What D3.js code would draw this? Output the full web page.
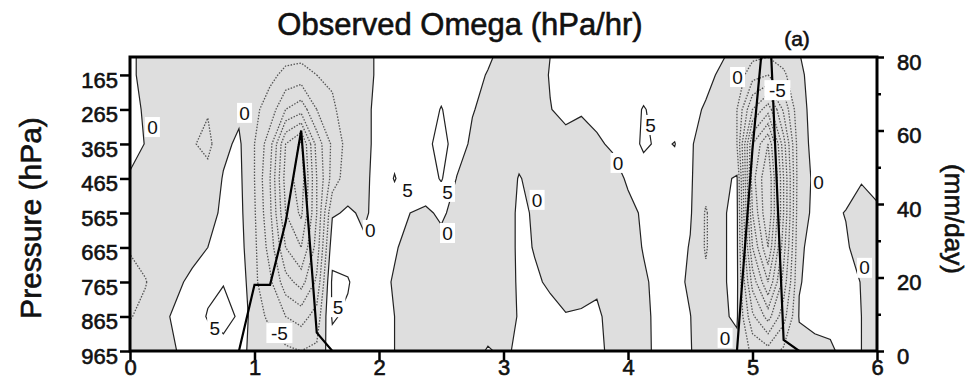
<!DOCTYPE html>
<html>
<head>
<meta charset="utf-8">
<script src="https://cdn.jsdelivr.net/npm/d3@7"></script>
<style>
  body { margin: 0; background: #fff; }
  svg text { font-family: "Liberation Sans", Arial, Helvetica, sans-serif; fill: #111; }
  .heavy { stroke: #111; stroke-width: 0.6px; }
</style>
</head>
<body>
<svg id="chart" width="973" height="379"></svg>
<script>
// time axis (days) of the analysis grid, 3-hourly
const days = [0, 0.125, 0.25, 0.375, 0.5, 0.625, 0.75, 0.875, 1, 1.125, 1.25, 1.375, 1.5, 1.625, 1.75, 1.875,
  2, 2.125, 2.25, 2.375, 2.5, 2.625, 2.75, 2.875, 3, 3.125, 3.25, 3.375, 3.5, 3.625, 3.75, 3.875,
  4, 4.125, 4.25, 4.375, 4.5, 4.625, 4.75, 4.875, 5, 5.125, 5.25, 5.375, 5.5, 5.625, 5.75, 5.875, 6];

// pressure levels (hPa), surface first
const levels = [965, 865, 765, 665, 565, 465, 365, 265, 165, 113];

// omega (hPa/hr), one column per time step, values follow `levels`
const omega = [
  [-3, -5.2, -7, -4.5, -2, -0.3, 1, 1.5, 1, 1],
  [-2.5, -4, -5.2, -3.5, -2, -0.5, -0.1, -0.6, -1.5, -1.5],
  [-1.5, -1, -2.5, -3, -2.5, -2, -2, -2, -2.5, -2.5],
  [0, 0.8, -0.8, -2, -3, -4, -4, -3, -2.5, -2],
  [2, 3, 1, -1.5, -3, -4, -4.5, -3.5, -3, -2.5],
  [3, 5.3, 4, 0, -1.5, -3, -6.5, -4.5, -3, -2.5],
  [3.5, 6.5, 4.8, 2.5, 0.8, 0.3, -1, -3, -3, -2.5],
  [2, 4.5, 3.5, 2, 1.5, 1.2, 0.8, -1, -3, -3],
  [-2, -3, -4, -4, -4.5, -5, -5, -4, -3, -3],
  [-3, -6, -9, -12, -14, -15, -13, -7, -4, -3],
  [-4, -10, -18, -25, -30, -32, -30, -15, -6, -4],
  [-5, -12, -22, -30, -36, -38, -36, -18, -7, -4],
  [-4, -8, -14, -18, -20, -20, -18, -10, -5, -3],
  [3, 5.6, 6, 3, -0.5, -8, -9, -6, -4, -3],
  [2, 4, 5.5, 2, 0.5, -2, -3, -2, -2, -2],
  [1, 2, 1.5, 0.5, -0.5, -1, -1, -1, -1, -1],
  [1, 1, 1, 1, 1, 1.5, 1, 1, 0.5, 0.5],
  [0, 0, -0.3, 0.3, 2, 5.3, 3, 2, 1.5, 1],
  [-2, -2.5, -2, -1, 0, 2, 2.5, 2, 2, 1.5],
  [-3, -3, -3, -2, -0.5, 2, 3.5, 3, 2.5, 2],
  [-3, -3.5, -3, -1, 0.5, 5.5, 7, 5.2, 3, 2],
  [-3, -3.5, -3, -2, -1, -0.2, 2.5, 3, 2, 1.5],
  [-2, -3, -3, -3, -3, -2, -1, 0.3, 1, 1],
  [0.5, -3, -3, -3, -3, -3, -3, -1.5, -0.2, 0.5],
  [-1, -3, -3, -3, -3, -3, -3, -2, -1, -1],
  [1, 0.5, 0.8, 1, 1, 0.3, -2, -2.5, -2, -1.5],
  [1, 1, 0.5, -0.2, -0.5, -1.5, -3, -2, -1.5, -1],
  [2, 1, -0.5, -2, -2.5, -3, -2.5, -0.1, 0.2, 0],
  [1.5, 0.2, -1.5, -2.5, -3, -3, -1, 0.8, 1.5, 1.5],
  [1, 0.3, -1, -2.5, -3, -3, -2, 0.5, 1.5, 1.5],
  [0.5, 0.5, -0.5, -2.5, -3, -3, -0.5, 1, 1.5, 1.5],
  [-0.5, -1, -2, -2.5, -2.5, -1.5, 0.5, 1.5, 2, 2],
  [-1.5, -2, -2, -1.5, -1, 0.5, 2, 3, 2, 1.5],
  [-0.5, -0.7, -0.5, 0.2, 0.5, 2, 6, 5.3, 2.5, 1.5],
  [0.5, 0.8, 1, 1, 1.5, 2.5, 4, 3.5, 2, 1.5],
  [0.5, 1, 1.5, 2, 2, 2.5, 5.2, 2, 1.5, 1],
  [0.2, 0.1, -0.8, -0.3, 0.5, 0.5, 0.5, 0.8, 1, 1],
  [-2, -3, -4, -5.5, -5.5, -3, -2, -0.3, 0.8, 1],
  [-1, -0.5, -0.5, -0.5, -0.5, -1, -3, -2, -0.5, 0.3],
  [-1, 0.5, 1, 1, 1, 0.5, -5, -5, -2, -1],
  [-6, -14, -22, -30, -35, -38, -35, -20, -8, -4],
  [-8, -22, -35, -45, -50, -50, -45, -28, -10, -5],
  [-4, -12, -18, -22, -25, -25, -22, -14, -6, -3],
  [-1.5, 0.3, -0.2, -0.5, -1, -1.5, -1.5, -1, -0.5, -0.1],
  [-1, 1, 1, 1, 0.5, 0.5, 1, 1, 1, 1],
  [-0.5, 1, 1, 1, 0.5, 1, 1, 1, 1, 1],
  [1, 1, 1, 0.3, -0.1, 1, 1.5, 1.5, 1, 1],
  [0, 0, -0.1, -1, -1.5, 0.3, 1.5, 1.5, 1, 1],
  [-1, -1, -1, -1.5, -0.5, 1, 1.5, 1.5, 1, 1]
];

// observed precipitation (mm/day) at the same time steps
const rain = [0, 0, 0, 0, 0, 0, 0, 0, 18, 18, 35, 60, 5, 0, 0, 0,
  0, 0, 0, 0, 0, 0, 0, 0, 0, 0, 0, 0, 0, 0, 0, 0,
  0, 0, 0, 0, 0, 0, 0, 0, 55, 100, 3, 0, 0, 0, 0, 0, 0];

const pressureTicks = [165, 265, 365, 465, 565, 665, 765, 865, 965];
const dayTicks = [0, 1, 2, 3, 4, 5, 6];
const rainTicks = [0, 20, 40, 60, 80];
const rainMinorTicks = [10, 30, 50, 70];

// contour labels: [day, pressure, text]
const contourLabels = [
  [0.18, 316, '0'], [0.92, 275, '0'], [0.68, 898, '5'], [1.2, 913, '-5'], [1.67, 838, '5'],
  [1.93, 614, '0'], [2.23, 498, '5'], [2.55, 504, '5'], [2.55, 623, '0'], [3.27, 527, '0'],
  [3.92, 420, '0'], [4.18, 310, '5'], [4.88, 171, '0'], [5.2, 209, '-5'], [5.53, 475, '0'],
  [4.78, 927, '0'], [5.9, 724, '0']
];

const svg = d3.select('#chart');
const margin = { left: 130, right: 96, top: 57, bottom: 28 };
const W = 973, H = 379;

const x = d3.scaleLinear().domain([0, 6]).range([margin.left, W - margin.right]);
const y = d3.scaleLinear().domain([113, 965]).range([margin.top, H - margin.bottom]);
const yRain = d3.scaleLinear().domain([0, 80]).range([H - margin.bottom, margin.top]);

// grid index -> data coordinates (d3.contours puts sample i at i + 0.5)
const n = days.length, m = levels.length;
const colToDay = d3.scaleLinear().domain(d3.range(n).map(i => i + 0.5)).range(days).clamp(true);
const rowToP = d3.scaleLinear().domain(d3.range(m).map(j => j + 0.5)).range(levels).clamp(true);
const proj = d3.geoTransform({
  point: function(px, py) { this.stream.point(x(colToDay(px)), y(rowToP(py))); }
});
const path = d3.geoPath(proj);

const values = new Array(n * m);
const negValues = new Array(n * m);
for (let j = 0; j < m; j++) {
  for (let i = 0; i < n; i++) {
    values[j * n + i] = omega[i][j];
    negValues[j * n + i] = -omega[i][j];
  }
}
const contours = d3.contours().size([n, m]).smooth(true);

svg.append('defs').append('clipPath').attr('id', 'plot-clip')
  .append('rect')
  .attr('x', x(0)).attr('y', y(113))
  .attr('width', x(6) - x(0)).attr('height', y(965) - y(113));

const plot = svg.append('g').attr('clip-path', 'url(#plot-clip)');

// shading where omega < 0 (rising motion)
const rising = contours.contour(negValues, 1e-6);
plot.append('path').attr('d', path(rising))
  .attr('fill', '#dedede').attr('stroke', 'none');

// negative contours, dotted
const negLevels = [5, 10, 15, 20, 25, 30, 35, 40, 45, 50];
negLevels.forEach(t => {
  plot.append('path').attr('d', path(contours.contour(negValues, t)))
    .attr('fill', 'none').attr('stroke', '#555').attr('stroke-width', 1.3)
    .attr('stroke-dasharray', '1.5,1.5');
});

// zero and positive contours, solid
[0, 5].forEach(t => {
  const c = t === 0 ? rising : contours.contour(values, t);
  plot.append('path').attr('d', path(c))
    .attr('fill', 'none').attr('stroke', '#222').attr('stroke-width', 1.2);
});

// precipitation
plot.append('path')
  .datum(rain)
  .attr('d', d3.line().x((d, i) => x(days[i])).y(d => yRain(d)))
  .attr('fill', 'none').attr('stroke', '#000').attr('stroke-width', 2.2);

// contour labels
const lab = svg.append('g');
contourLabels.forEach(([d, p, t]) => {
  const g = lab.append('g').attr('transform', `translate(${x(d)},${y(p)})`);
  const w = t.length * 11 + 4;
  g.append('rect').attr('x', -w / 2).attr('y', -10).attr('width', w).attr('height', 20).attr('fill', '#fff');
  g.append('text').attr('text-anchor', 'middle').attr('dy', '0.35em')
    .style('font-size', '19px').text(t);
});

// axes
const axisLeft = svg.append('g').attr('transform', `translate(${x(0)},0)`)
  .call(d3.axisLeft(y).tickValues(pressureTicks).tickSize(10).tickPadding(2));
const axisBottom = svg.append('g').attr('transform', `translate(0,${y(965)})`)
  .call(d3.axisBottom(x).tickValues(dayTicks).tickSize(9).tickPadding(1).tickFormat(d3.format('d')));
const axisRight = svg.append('g').attr('transform', `translate(${x(6)},0)`)
  .call(d3.axisRight(yRain).tickValues(rainTicks).tickSize(7).tickPadding(13));
svg.append('g').attr('transform', `translate(${x(6)},0)`)
  .call(d3.axisRight(yRain).tickValues(rainMinorTicks).tickSize(4).tickFormat(''))
  .select('.domain').remove();

[axisLeft, axisBottom, axisRight].forEach(a => {
  a.select('.domain').remove();
  a.selectAll('.tick text').style('font-size', '22px').attr('fill', '#222')
    .attr('class', 'heavy');
});
svg.selectAll('.tick line').attr('stroke', '#000').attr('stroke-width', 2.5);
axisLeft.selectAll('.tick text').attr('dy', '0.55em');
axisRight.selectAll('.tick text').attr('dy', '0.55em');
axisBottom.selectAll('.tick text').attr('dy', '0.62em');

// frame
svg.append('rect')
  .attr('x', x(0)).attr('y', y(113))
  .attr('width', x(6) - x(0)).attr('height', y(965) - y(113))
  .attr('fill', 'none').attr('stroke', '#000').attr('stroke-width', 3);

// titles
svg.append('text').attr('class', 'heavy').attr('x', 460).attr('y', 35).attr('text-anchor', 'middle')
  .style('font-size', '31px').text('Observed Omega (hPa/hr)');
svg.append('text').attr('class', 'heavy').attr('x', 797).attr('y', 46).attr('text-anchor', 'middle')
  .style('font-size', '21px').text('(a)');
svg.append('text').attr('class', 'heavy').attr('transform', 'translate(41,218) rotate(-90)').attr('text-anchor', 'middle')
  .style('font-size', '30px').text('Pressure (hPa)');
svg.append('text').attr('class', 'heavy').attr('transform', 'translate(945,219) rotate(90)').attr('text-anchor', 'middle')
  .style('font-size', '26px').text('(mm/day)');
</script>
</body>
</html>
